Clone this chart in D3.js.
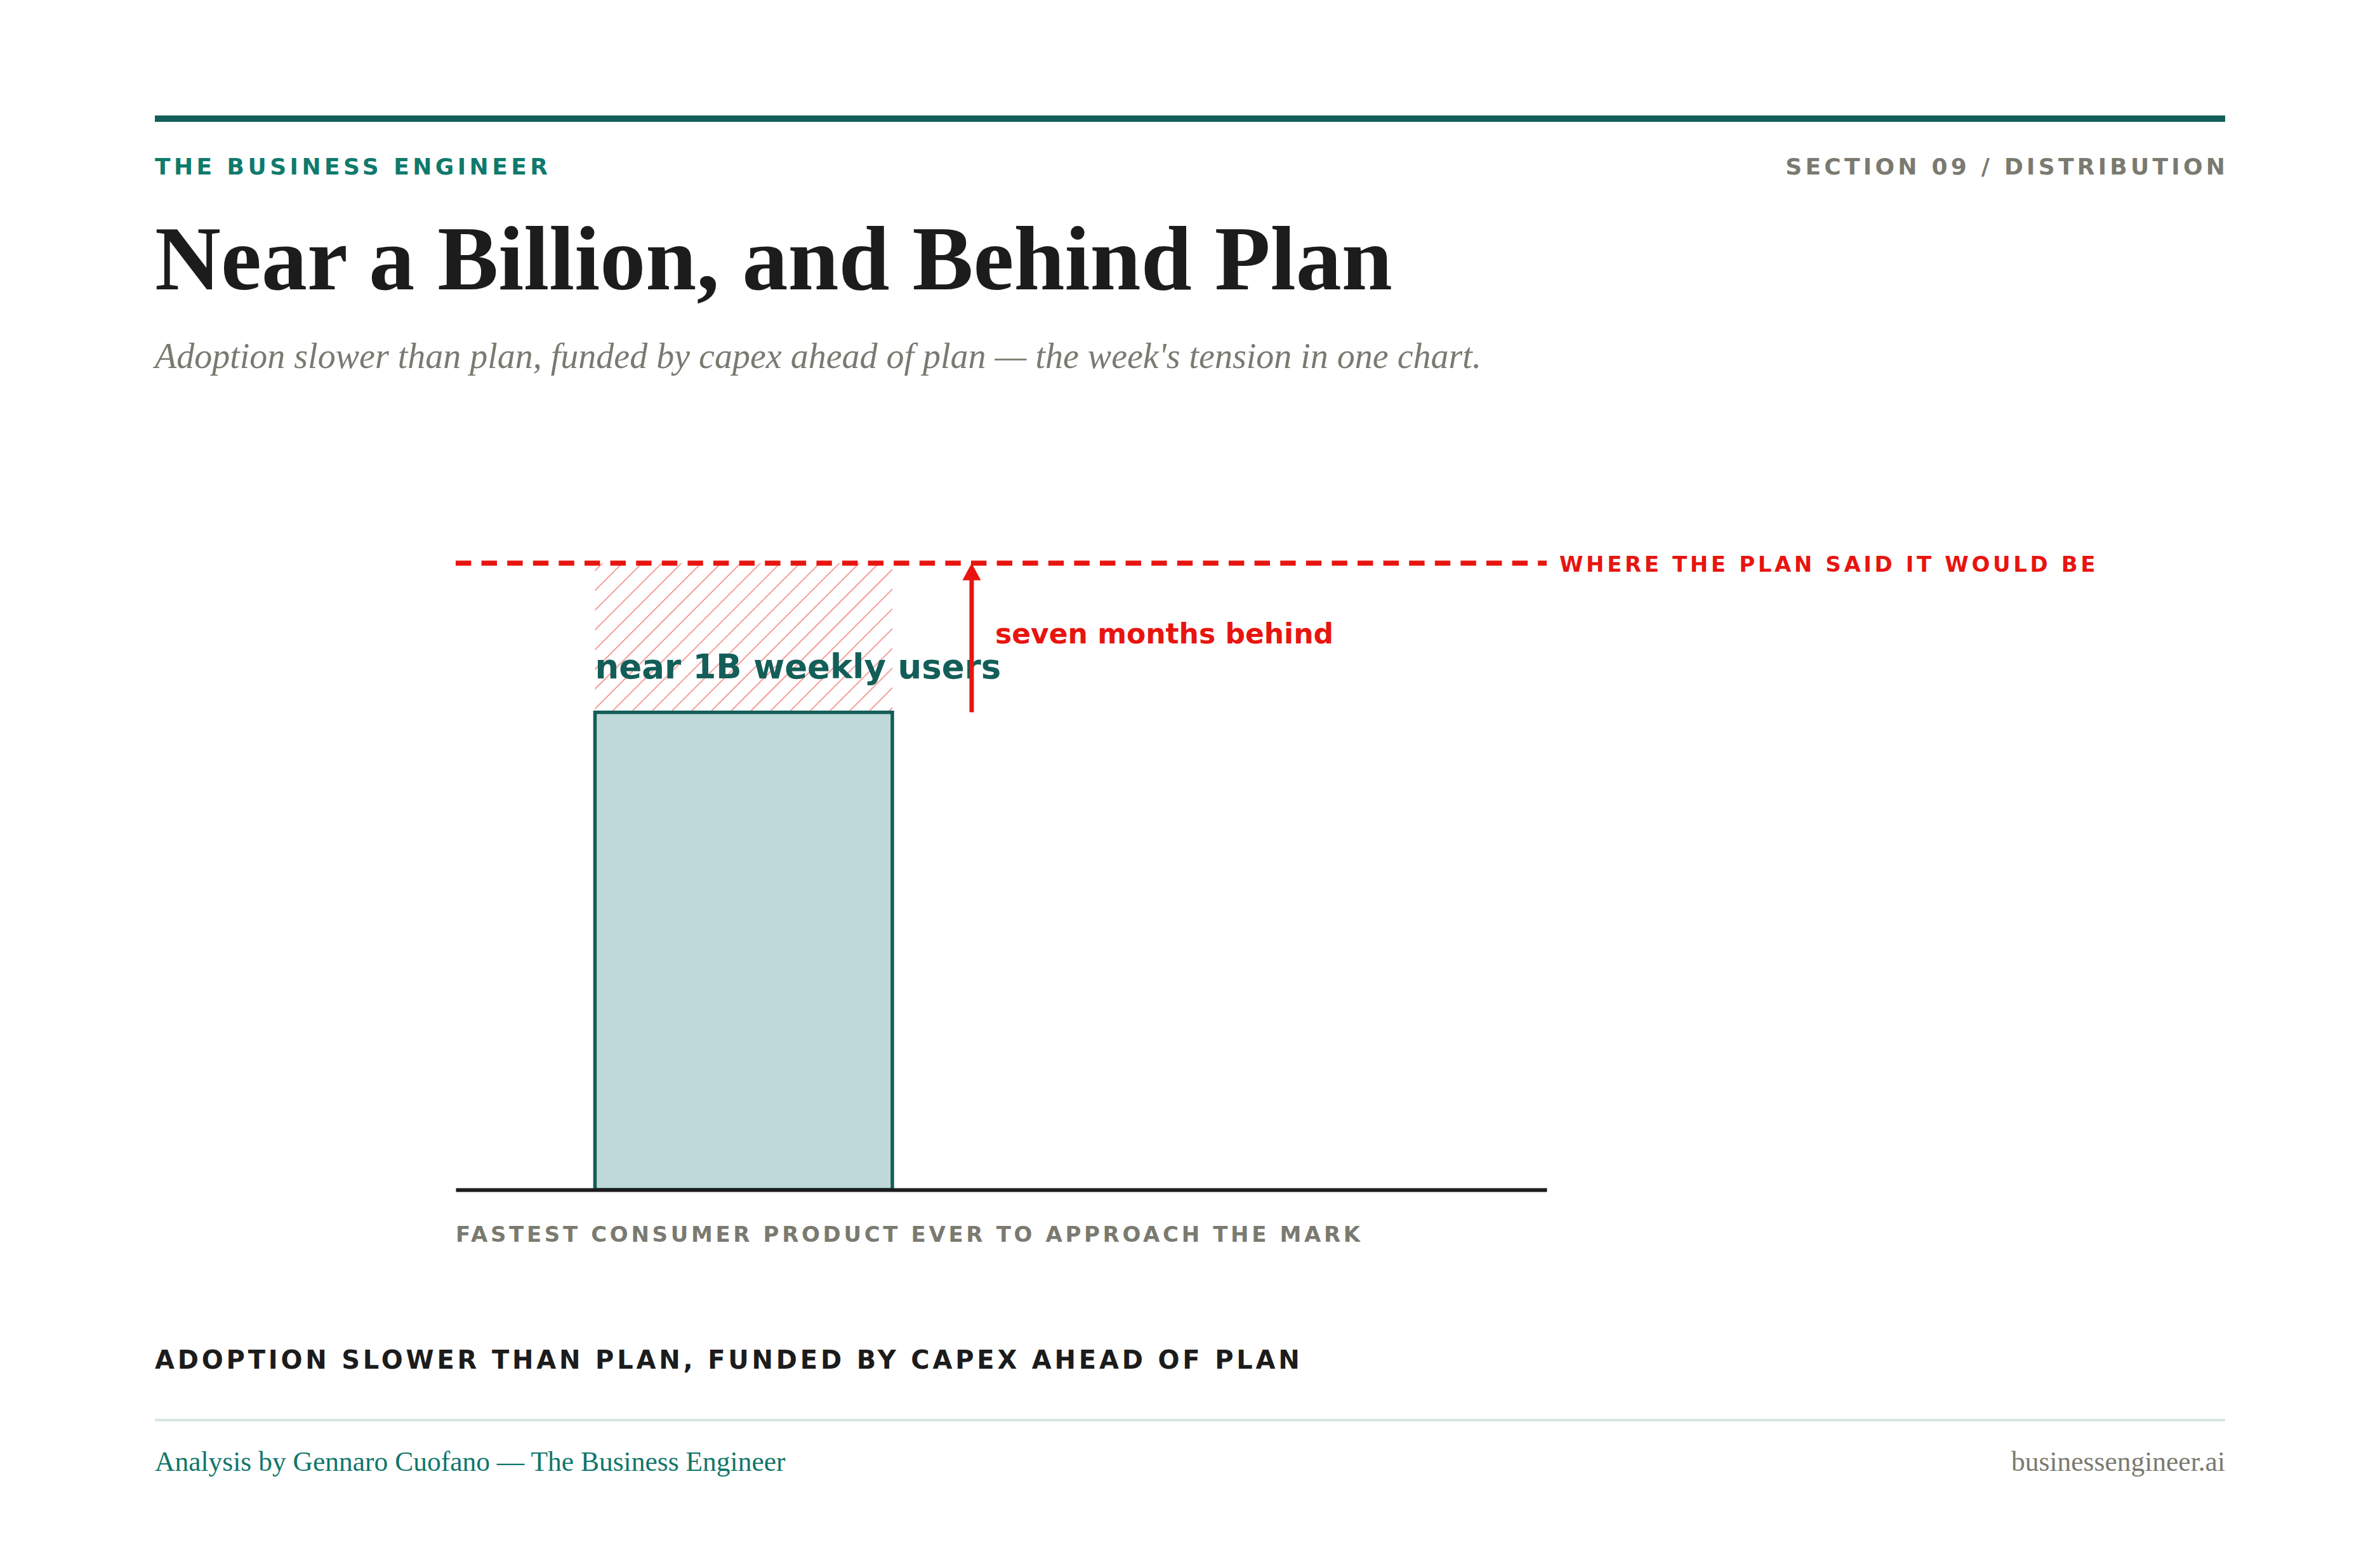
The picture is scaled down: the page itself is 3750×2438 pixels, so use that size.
<!DOCTYPE html>
<html>
<head>
<meta charset="utf-8">
<script src="https://cdn.jsdelivr.net/npm/d3@7/dist/d3.min.js"></script>
<style>
  html, body { margin: 0; padding: 0; background: #ffffff; }
  svg { display: block; }
</style>
</head>
<body>
<script>
// ---------------- DATA ----------------
const categories = ["ChatGPT"];
const actualUsersM = [800];     // weekly users (millions), "near 1B"
const planUsersM = [1050];      // where the plan said it would be
const barLabels = ["near 1B weekly users"];
const gapLabels = ["seven months behind"];
const planLabels = ["WHERE THE PLAN SAID IT WOULD BE"];
const axisCaptions = ["FASTEST CONSUMER PRODUCT EVER TO APPROACH THE MARK"];

const brandText = "THE BUSINESS ENGINEER";
const sectionText = "SECTION 09 / DISTRIBUTION";
const titleText = "Near a Billion, and Behind Plan";
const subtitleText = "Adoption slower than plan, funded by capex ahead of plan \u2014 the week's tension in one chart.";
const takeawayText = "ADOPTION SLOWER THAN PLAN, FUNDED BY CAPEX AHEAD OF PLAN";
const footerLeft = "Analysis by Gennaro Cuofano \u2014 The Business Engineer";
const footerRight = "businessengineer.ai";

// ---------------- LAYOUT ----------------
const W = 3750, H = 2438;
const ML = 244, MR = 3506;
const SANS = "'DejaVu Sans', 'Noto Sans', sans-serif";
const SERIF = "'Liberation Serif', 'Times New Roman', serif";
const RED = "#e8140f";
const TEAL_DARK = "#135e58";
const TEAL = "#0f7a6c";
const GREY = "#7a7a70";
const INK = "#1c1c1c";

const svg = d3.select("body").append("svg")
  .attr("width", W).attr("height", H)
  .attr("viewBox", `0 0 ${W} ${H}`);

svg.append("rect").attr("width", W).attr("height", H).attr("fill", "#ffffff");

// header rule
svg.append("rect").attr("x", ML).attr("y", 182).attr("width", MR - ML).attr("height", 10).attr("fill", TEAL_DARK);

// brand + section
svg.append("text").attr("x", ML).attr("y", 275)
  .attr("font-family", SANS).attr("font-weight", "bold").attr("font-size", 36)
  .style("letter-spacing", "5.45px").attr("fill", TEAL).text(brandText);
svg.append("text").attr("x", MR + 5.2).attr("y", 275).attr("text-anchor", "end")
  .attr("font-family", SANS).attr("font-weight", "bold").attr("font-size", 36)
  .style("letter-spacing", "5.25px").attr("fill", GREY).text(sectionText);

// title + subtitle
svg.append("text").attr("x", ML).attr("y", 456)
  .attr("font-family", SERIF).attr("font-weight", "bold").attr("font-size", 144)
  .attr("fill", INK).text(titleText);
svg.append("text").attr("x", ML).attr("y", 580)
  .attr("font-family", SERIF).attr("font-style", "italic").attr("font-size", 56)
  .attr("fill", GREY).text(subtitleText);

// ---------------- CHART ----------------
const x = d3.scaleBand().domain(categories).range([718, 2437])
  .paddingInner(0).paddingOuter(1.3346).align(0.1755);
const y = d3.scaleLinear().domain([0, planUsersM[0]]).range([1875, 887.5]);

const defs = svg.append("defs");
const pat = defs.append("pattern").attr("id", "hatch")
  .attr("patternUnits", "userSpaceOnUse").attr("width", 22).attr("height", 22)
  .attr("patternTransform", "rotate(45)");
pat.append("line").attr("x1", 0).attr("y1", 0).attr("x2", 0).attr("y2", 22)
  .attr("stroke", RED).attr("stroke-opacity", 0.55).attr("stroke-width", 3);

const rows = categories.map((c, i) => ({ c, actual: actualUsersM[i], plan: planUsersM[i], label: barLabels[i], gap: gapLabels[i] }));

// hatched gap
svg.selectAll(".gap").data(rows).join("rect").attr("class", "gap")
  .attr("x", d => x(d.c)).attr("width", x.bandwidth())
  .attr("y", d => y(d.plan)).attr("height", d => y(d.actual) - y(d.plan))
  .attr("fill", "url(#hatch)");

// plan line
svg.selectAll(".plan").data(rows).join("line").attr("class", "plan")
  .attr("x1", x.range()[0]).attr("x2", x.range()[1])
  .attr("y1", d => y(d.plan)).attr("y2", d => y(d.plan))
  .attr("stroke", RED).attr("stroke-width", 8).attr("stroke-dasharray", "24.4,16.2");

svg.selectAll(".planlab").data(rows).join("text").attr("class", "planlab")
  .attr("x", x.range()[1] + 20).attr("y", d => y(d.plan) + 13)
  .attr("font-family", SANS).attr("font-weight", "bold").attr("font-size", 34)
  .style("letter-spacing", "4.6px").attr("fill", RED).text((d, i) => planLabels[i]);

// bar
svg.selectAll(".bar").data(rows).join("rect").attr("class", "bar")
  .attr("x", d => x(d.c)).attr("width", x.bandwidth())
  .attr("y", d => y(d.actual)).attr("height", d => y(0) - y(d.actual))
  .attr("fill", "#bfd9d9").attr("stroke", TEAL_DARK).attr("stroke-width", 5.5);

// axis baseline
const axisG = svg.append("g").attr("transform", `translate(0,${y(0)})`)
  .call(d3.axisBottom(x).tickSize(0).tickSizeOuter(0).tickFormat(""));
axisG.select(".domain").attr("stroke", INK).attr("stroke-width", 6);
axisG.selectAll(".tick").remove();

// bar label
svg.selectAll(".barlab").data(rows).join("text").attr("class", "barlab")
  .attr("x", d => x(d.c)).attr("y", d => y(d.actual) - 54)
  .attr("font-family", SANS).attr("font-weight", "bold").attr("font-size", 53)
  .attr("fill", TEAL_DARK).text(d => d.label);

// gap arrow
const arrowX = d => x(d.c) + x.bandwidth() + 125;
svg.selectAll(".arrow").data(rows).join("line").attr("class", "arrow")
  .attr("x1", arrowX).attr("x2", arrowX)
  .attr("y1", d => y(d.actual)).attr("y2", d => y(d.plan) + 24)
  .attr("stroke", RED).attr("stroke-width", 7);
svg.selectAll(".arrowhead").data(rows).join("path").attr("class", "arrowhead")
  .attr("d", d => {
    const ax = arrowX(d), ty = y(d.plan);
    return `M${ax},${ty} L${ax + 14.5},${ty + 27} L${ax - 14.5},${ty + 27} Z`;
  })
  .attr("fill", RED);

svg.selectAll(".gaplab").data(rows).join("text").attr("class", "gaplab")
  .attr("x", d => arrowX(d) + 37).attr("y", d => y(d.plan) + 126)
  .attr("font-family", SANS).attr("font-weight", "bold").attr("font-size", 44)
  .attr("fill", RED).text(d => d.gap);

// axis caption
svg.append("text").attr("x", x.range()[0]).attr("y", 1957)
  .attr("font-family", SANS).attr("font-weight", "bold").attr("font-size", 34)
  .style("letter-spacing", "4.65px").attr("fill", GREY).text(axisCaptions[0]);

// takeaway
svg.append("text").attr("x", ML).attr("y", 2157)
  .attr("font-family", SANS).attr("font-weight", "bold").attr("font-size", 40)
  .style("letter-spacing", "4.8px").attr("fill", INK).text(takeawayText);

// footer
svg.append("rect").attr("x", ML).attr("y", 2236).attr("width", MR - ML).attr("height", 4).attr("fill", "#d6e6e1");
svg.append("text").attr("x", ML).attr("y", 2318)
  .attr("font-family", SERIF).attr("font-size", 43.5).attr("fill", "#10766b").text(footerLeft);
svg.append("text").attr("x", MR).attr("y", 2318).attr("text-anchor", "end")
  .attr("font-family", SERIF).attr("font-size", 43.5).attr("fill", GREY).text(footerRight);
</script>
</body>
</html>
